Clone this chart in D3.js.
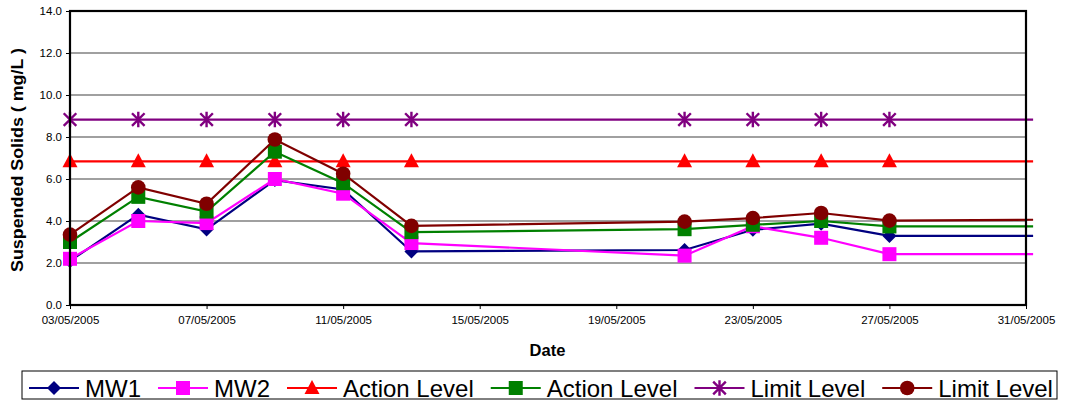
<!DOCTYPE html>
<html>
<head>
<meta charset="utf-8">
<script src="https://cdn.jsdelivr.net/npm/d3@7"></script>
<style>
  html, body { margin: 0; padding: 0; background: #fff; }
  svg { display: block; font-family: "Liberation Sans", Arial, sans-serif; }
</style>
</head>
<body>
<svg id="chart" width="1080" height="405"></svg>
<script>
// Sampling dates (dd/mm/yyyy); each series carries one extra value for the
// line that continues to the right edge of the period.
const sampleDates = ["03/05/2005", "05/05/2005", "07/05/2005", "09/05/2005", "11/05/2005",
                     "13/05/2005", "21/05/2005", "23/05/2005", "25/05/2005", "27/05/2005"];
const lineEndDate = "31/05/2005 05:00";

const mw1Values      = [2.10, 4.30, 3.60, 5.95, 5.50, 2.55, 2.62, 3.58, 3.87, 3.29, 3.29];
const mw2Values      = [2.20, 4.00, 3.90, 6.00, 5.30, 2.95, 2.35, 3.75, 3.20, 2.42, 2.42];
const actionValues   = [6.84, 6.84, 6.84, 6.84, 6.84, 6.84, 6.84, 6.84, 6.84, 6.84, 6.84];
const action2Values  = [3.00, 5.15, 4.45, 7.30, 5.80, 3.47, 3.61, 3.82, 4.00, 3.74, 3.74];
const limitValues    = [8.83, 8.83, 8.83, 8.83, 8.83, 8.83, 8.83, 8.83, 8.83, 8.83, 8.83];
const limit2Values   = [3.35, 5.60, 4.82, 7.88, 6.25, 3.77, 3.97, 4.14, 4.38, 4.02, 4.06];

const xTickDates = ["03/05/2005", "07/05/2005", "11/05/2005", "15/05/2005",
                    "19/05/2005", "23/05/2005", "27/05/2005", "31/05/2005"];
const yTicks = [0, 2, 4, 6, 8, 10, 12, 14];

const seriesNames = ["MW1", "MW2", "Action Level", "Action Level", "Limit Level", "Limit Level"];

const parseDay = d3.timeParse("%d/%m/%Y");
const parseDayTime = d3.timeParse("%d/%m/%Y %H:%M");
const fmtDay = d3.timeFormat("%d/%m/%Y");

const dates = sampleDates.map(parseDay).concat([parseDayTime(lineEndDate)]);

const series = [
  { name: seriesNames[0], values: mw1Values,     color: "#000080", marker: "diamond" },
  { name: seriesNames[1], values: mw2Values,     color: "#FF00FF", marker: "square" },
  { name: seriesNames[2], values: actionValues,  color: "#FF0000", marker: "triangle" },
  { name: seriesNames[3], values: action2Values, color: "#008000", marker: "square" },
  { name: seriesNames[4], values: limitValues,   color: "#800080", marker: "star" },
  { name: seriesNames[5], values: limit2Values,  color: "#800000", marker: "circle" }
];

const svg = d3.select("#chart");
const plot = { left: 70, right: 1026, top: 11, bottom: 305 };

const x = d3.scaleTime()
  .domain([parseDay(xTickDates[0]), parseDay(xTickDates[xTickDates.length - 1])])
  .range([plot.left, plot.right]);
const y = d3.scaleLinear().domain([0, 14]).range([plot.bottom, plot.top]);

// Horizontal gridlines
svg.append("g").selectAll("line").data(yTicks.slice(1, -1)).join("line")
  .attr("x1", plot.left).attr("x2", plot.right)
  .attr("y1", d => y(d)).attr("y2", d => y(d))
  .attr("stroke", "#808080").attr("stroke-width", 1.3);

// Y axis
const yAxis = svg.append("g")
  .attr("transform", `translate(${plot.left},0)`)
  .call(d3.axisLeft(y).tickValues(yTicks).tickFormat(d3.format(".1f")).tickSize(4).tickPadding(4));
yAxis.select(".domain").remove();
yAxis.selectAll(".tick line").attr("stroke", "#000").attr("stroke-width", 1);
yAxis.selectAll("text").attr("font-size", "11.5px").attr("fill", "#000")
  .attr("font-family", "Liberation Sans, Arial, sans-serif");

// X axis
const xAxis = svg.append("g")
  .attr("transform", `translate(0,${plot.bottom})`)
  .call(d3.axisBottom(x).tickValues(xTickDates.map(parseDay)).tickFormat(fmtDay).tickSize(4).tickPadding(7));
xAxis.select(".domain").remove();
xAxis.selectAll(".tick line").attr("stroke", "#000").attr("stroke-width", 1);
xAxis.selectAll("text").attr("font-size", "11.5px").attr("fill", "#000")
  .attr("font-family", "Liberation Sans, Arial, sans-serif");

// Marker shapes
function drawMarker(g, type, color, cx, cy) {
  if (type === "diamond") {
    g.append("path").attr("d", `M${cx},${cy - 7}L${cx + 7},${cy}L${cx},${cy + 7}L${cx - 7},${cy}Z`)
      .attr("fill", color);
  } else if (type === "square") {
    g.append("rect").attr("x", cx - 7).attr("y", cy - 7).attr("width", 14).attr("height", 14)
      .attr("fill", color);
  } else if (type === "triangle") {
    g.append("path").attr("d", `M${cx},${cy - 8}L${cx + 7.5},${cy + 6}L${cx - 7.5},${cy + 6}Z`)
      .attr("fill", color);
  } else if (type === "circle") {
    g.append("circle").attr("cx", cx).attr("cy", cy).attr("r", 7.3).attr("fill", color);
  } else if (type === "star") {
    const s = 6.3;
    g.append("path")
      .attr("d", `M${cx - s},${cy - s}L${cx + s},${cy + s}M${cx - s},${cy + s}L${cx + s},${cy - s}M${cx},${cy - s - 1.5}L${cx},${cy + s + 1.5}`)
      .attr("stroke", color).attr("stroke-width", 2.4).attr("fill", "none");
  }
}

// Series lines and markers
const line = d3.line().x((d, i) => x(dates[i])).y(d => y(d));
series.forEach(s => {
  const g = svg.append("g");
  g.append("path").datum(s.values).attr("d", line)
    .attr("fill", "none").attr("stroke", s.color).attr("stroke-width", 2.2);
  s.values.slice(0, sampleDates.length).forEach((v, i) => {
    drawMarker(g, s.marker, s.color, x(dates[i]), y(v));
  });
});

// Plot frame
svg.append("rect")
  .attr("x", plot.left).attr("y", plot.top)
  .attr("width", plot.right - plot.left).attr("height", plot.bottom - plot.top)
  .attr("fill", "none").attr("stroke", "#000").attr("stroke-width", 2.2);

// Axis titles
svg.append("text")
  .attr("x", (plot.left + plot.right) / 2 - 0.5).attr("y", 356)
  .attr("text-anchor", "middle").attr("font-weight", "bold").attr("font-size", "16.5px")
  .text("Date");

svg.append("text")
  .attr("transform", `translate(23,${(plot.top + plot.bottom) / 2 + 2}) rotate(-90)`)
  .attr("text-anchor", "middle").attr("font-weight", "bold").attr("font-size", "16px")
  .attr("textLength", 224).attr("lengthAdjust", "spacingAndGlyphs")
  .text("Suspended Solids ( mg/L )");

// Legend
const legend = svg.append("g");
legend.append("rect")
  .attr("x", 22).attr("y", 371).attr("width", 1035).attr("height", 28)
  .attr("fill", "#fff").attr("stroke", "#000").attr("stroke-width", 1);

let lx = 29;
const ly = 388;
series.forEach(s => {
  const g = legend.append("g");
  g.append("line").attr("x1", lx).attr("x2", lx + 50).attr("y1", ly).attr("y2", ly)
    .attr("stroke", s.color).attr("stroke-width", 2.2);
  drawMarker(g, s.marker, s.color, lx + 25, ly);
  const t = g.append("text").attr("x", lx + 56).attr("y", ly + 9)
    .attr("font-size", "24px").attr("fill", "#000").text(s.name);
  lx = lx + 56 + t.node().getComputedTextLength() + 17;
});
</script>
</body>
</html>
